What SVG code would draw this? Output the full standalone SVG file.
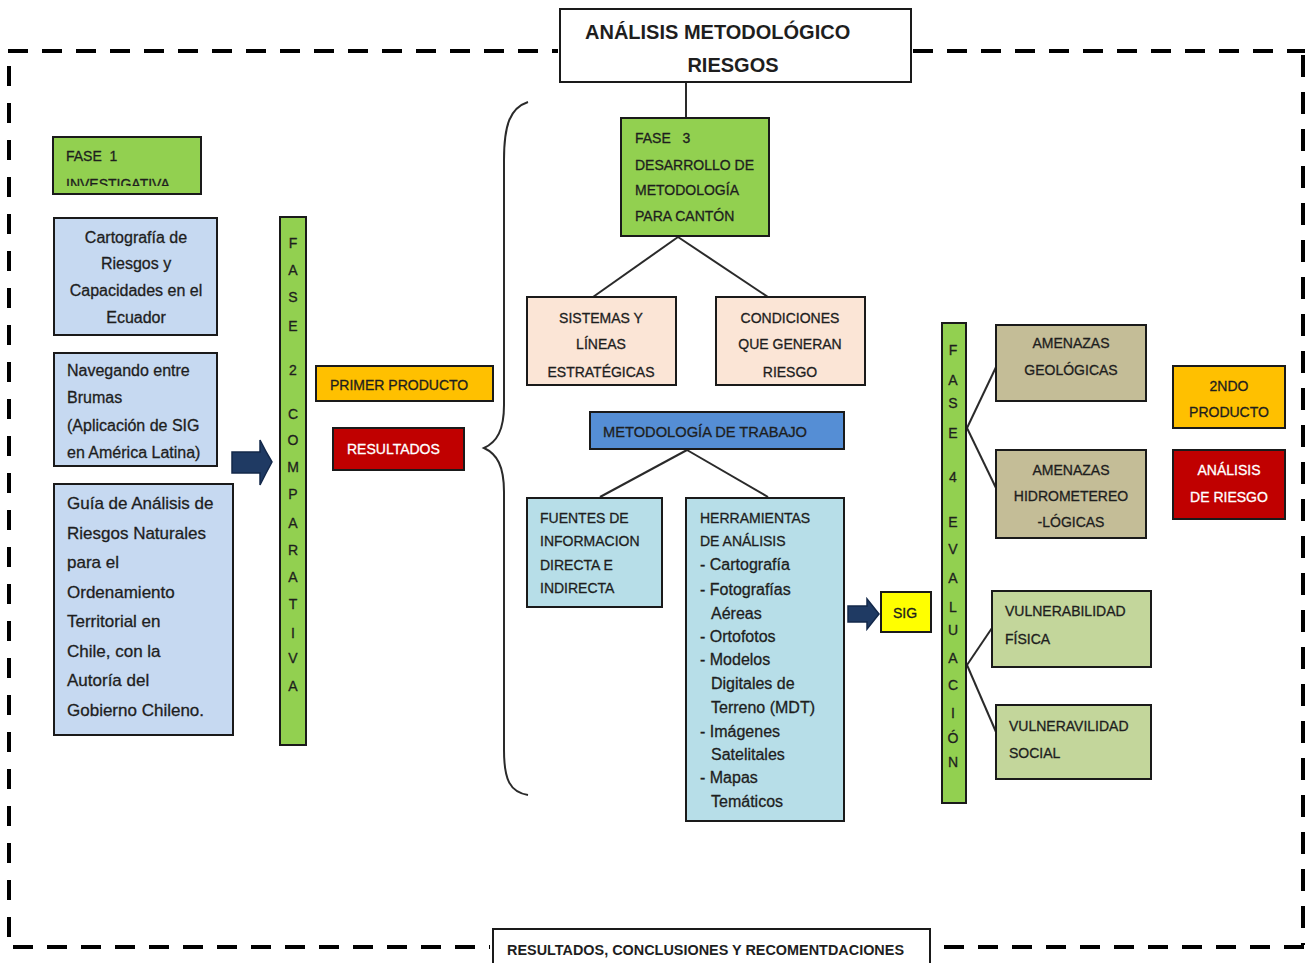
<svg xmlns="http://www.w3.org/2000/svg" width="1307" height="963" viewBox="0 0 1307 963">
  <style>
    .t { font-family: "Liberation Sans", Arial, sans-serif; font-size: 14px; fill: #1e1e1e; stroke: #1e1e1e; stroke-width: 0.3; }
    .s16 { font-size: 16px; }
    .s17 { font-size: 17px; }
    .s20 { font-size: 20px; font-weight: bold; stroke: none; }
    .b { font-weight: bold; stroke: none; }
    .c { text-anchor: middle; }
    .w { fill: #ffffff; stroke: #ffffff; }
    .box { stroke: #1a1a1a; stroke-width: 2; }
    .dash { stroke: #000; stroke-width: 4; fill: none; }
    .link { stroke: #2a2a2a; stroke-width: 2; fill: none; }
    .green { fill: #92D050; }
    .lblue { fill: #C6D9F1; }
    .peach { fill: #FBE5D6; }
    .aqua { fill: #B7DEE8; }
    .tan { fill: #C4BD97; }
    .olive { fill: #C3D69B; }
    .orange { fill: #FFC000; }
    .red { fill: #C00000; }
    .arrow { fill: #1F3A63; stroke: #13284a; stroke-width: 1.5; }
  </style>
  <defs>
    <clipPath id="fase1clip"><rect x="53" y="137" width="148" height="49"/></clipPath>
  </defs>
  <rect width="1307" height="963" fill="#ffffff"/>

  <!-- dashed frame -->
  <g id="frame">
    <line class="dash" x1="8" y1="51" x2="558" y2="51" stroke-dasharray="20 14"/>
    <line class="dash" x1="913" y1="51" x2="1305" y2="51" stroke-dasharray="20 14"/>
    <line class="dash" x1="9" y1="66" x2="9" y2="940" stroke-dasharray="20 17"/>
    <line class="dash" x1="1303" y1="55" x2="1303" y2="945" stroke-dasharray="22 15"/>
    <line class="dash" x1="13" y1="947" x2="490" y2="947" stroke-dasharray="20 14"/>
    <line class="dash" x1="944" y1="947" x2="1305" y2="947" stroke-dasharray="20 14"/>
  </g>

  <!-- connectors -->
  <g id="connectors">
    <line class="link" x1="686" y1="82" x2="686" y2="118"/>
    <line class="link" x1="678" y1="237" x2="593" y2="297"/>
    <line class="link" x1="678" y1="237" x2="768" y2="297"/>
    <line class="link" x1="687" y1="450" x2="600" y2="497"/>
    <line class="link" x1="687" y1="450" x2="768" y2="497"/>
    <line class="link" x1="967" y1="428" x2="997" y2="365"/>
    <line class="link" x1="967" y1="428" x2="996" y2="488"/>
    <line class="link" x1="967" y1="665" x2="992" y2="628"/>
    <line class="link" x1="967" y1="665" x2="996" y2="732"/>
    <path class="link" d="M528,102 C510,108 504,125 504,160 L504,405 C504,430 497,442 484,448 C497,454 504,466 504,492 L504,750 C504,780 510,792 528,795"/>
    <path class="arrow" d="M232,452 L260,452 L260,440 Q266,452 272,462 Q266,473 260,485 L260,473 L232,473 Z"/>
    <path class="arrow" d="M848,606 L867,606 L867,599 L879,614 L867,629 L867,622 L848,622 Z"/>
  </g>

  <g id="title">
    <rect class="box" x="560" y="9" width="351" height="73" fill="#ffffff"/>
    <text class="t s20" x="585" y="39">ANÁLISIS METODOLÓGICO</text>
    <text class="t s20 c" x="733" y="72">RIESGOS</text>
  </g>

  <g id="fase1">
    <rect class="box green" x="53" y="137" width="148" height="57"/>
    <text class="t" x="66" y="161">FASE&#160; 1</text>
    <text class="t" x="66" y="189" clip-path="url(#fase1clip)">INVESTIGATIVA</text>
  </g>

  <g id="cartografia">
    <rect class="box lblue" x="54" y="218" width="163" height="117"/>
    <text class="t s16 c" x="136" y="243">Cartografía de</text>
    <text class="t s16 c" x="136" y="269">Riesgos y</text>
    <text class="t s16 c" x="136" y="296">Capacidades en el</text>
    <text class="t s16 c" x="136" y="323">Ecuador</text>
  </g>

  <g id="navegando">
    <rect class="box lblue" x="54" y="353" width="163" height="113"/>
    <text class="t s16" x="67" y="376">Navegando entre</text>
    <text class="t s16" x="67" y="403">Brumas</text>
    <text class="t s16" x="67" y="431">(Aplicación de SIG</text>
    <text class="t s16" x="67" y="458">en América Latina)</text>
  </g>

  <g id="guia">
    <rect class="box lblue" x="54" y="484" width="179" height="251"/>
    <text class="t s17" x="67" y="509">Guía de Análisis de</text>
    <text class="t s17" x="67" y="539">Riesgos Naturales</text>
    <text class="t s17" x="67" y="568">para el</text>
    <text class="t s17" x="67" y="598">Ordenamiento</text>
    <text class="t s17" x="67" y="627">Territorial en</text>
    <text class="t s17" x="67" y="657">Chile, con la</text>
    <text class="t s17" x="67" y="686">Autoría del</text>
    <text class="t s17" x="67" y="716">Gobierno Chileno.</text>
  </g>

  <g id="fase2">
    <rect class="box green" x="280" y="217" width="26" height="528"/>
    <text class="t c" x="293" y="248">F</text>
    <text class="t c" x="293" y="275">A</text>
    <text class="t c" x="293" y="302">S</text>
    <text class="t c" x="293" y="331">E</text>
    <text class="t c" x="293" y="375">2</text>
    <text class="t c" x="293" y="419">C</text>
    <text class="t c" x="293" y="445">O</text>
    <text class="t c" x="293" y="472">M</text>
    <text class="t c" x="293" y="499">P</text>
    <text class="t c" x="293" y="528">A</text>
    <text class="t c" x="293" y="555">R</text>
    <text class="t c" x="293" y="582">A</text>
    <text class="t c" x="293" y="609">T</text>
    <text class="t c" x="293" y="638">I</text>
    <text class="t c" x="293" y="663">V</text>
    <text class="t c" x="293" y="691">A</text>
  </g>

  <g id="primer-producto">
    <rect class="box orange" x="316" y="366" width="177" height="35"/>
    <text class="t" x="330" y="390">PRIMER PRODUCTO</text>
  </g>

  <g id="resultados">
    <rect class="box red" x="333" y="428" width="131" height="42"/>
    <text class="t w" x="347" y="454">RESULTADOS</text>
  </g>

  <g id="fase3">
    <rect class="box green" x="621" y="118" width="148" height="118"/>
    <text class="t" x="635" y="143">FASE&#160;&#160; 3</text>
    <text class="t" x="635" y="170">DESARROLLO DE</text>
    <text class="t" x="635" y="195">METODOLOGÍA</text>
    <text class="t" x="635" y="221">PARA CANTÓN</text>
  </g>

  <g id="sistemas">
    <rect class="box peach" x="527" y="297" width="149" height="88"/>
    <text class="t c" x="601" y="323">SISTEMAS Y</text>
    <text class="t c" x="601" y="349">LÍNEAS</text>
    <text class="t c" x="601" y="377">ESTRATÉGICAS</text>
  </g>

  <g id="condiciones">
    <rect class="box peach" x="716" y="297" width="149" height="88"/>
    <text class="t c" x="790" y="323">CONDICIONES</text>
    <text class="t c" x="790" y="349">QUE GENERAN</text>
    <text class="t c" x="790" y="377">RIESGO</text>
  </g>

  <g id="metodologia">
    <rect class="box" x="590" y="412" width="254" height="37" fill="#558ED5"/>
    <text class="t" x="603" y="437" textLength="204" lengthAdjust="spacingAndGlyphs">METODOLOGÍA DE TRABAJO</text>
  </g>

  <g id="fuentes">
    <rect class="box aqua" x="527" y="498" width="135" height="109"/>
    <text class="t" x="540" y="523">FUENTES DE</text>
    <text class="t" x="540" y="546">INFORMACION</text>
    <text class="t" x="540" y="570">DIRECTA E</text>
    <text class="t" x="540" y="593">INDIRECTA</text>
  </g>

  <g id="herramientas">
    <rect class="box aqua" x="686" y="498" width="158" height="323"/>
    <text class="t" x="700" y="523">HERRAMIENTAS</text>
    <text class="t" x="700" y="546">DE ANÁLISIS</text>
    <text class="t s16" x="700" y="570">- Cartografía</text>
    <text class="t s16" x="700" y="595">- Fotografías</text>
    <text class="t s16" x="711" y="619">Aéreas</text>
    <text class="t s16" x="700" y="642">- Ortofotos</text>
    <text class="t s16" x="700" y="665">- Modelos</text>
    <text class="t s16" x="711" y="689">Digitales de</text>
    <text class="t s16" x="711" y="713">Terreno (MDT)</text>
    <text class="t s16" x="700" y="737">- Imágenes</text>
    <text class="t s16" x="711" y="760">Satelitales</text>
    <text class="t s16" x="700" y="783">- Mapas</text>
    <text class="t s16" x="711" y="807">Temáticos</text>
  </g>

  <g id="sig">
    <rect class="box" x="881" y="592" width="50" height="40" fill="#FFFF00"/>
    <text class="t c" x="905" y="618">SIG</text>
  </g>

  <g id="fase4">
    <rect class="box green" x="942" y="323" width="24" height="480"/>
    <text class="t c" x="953" y="355">F</text>
    <text class="t c" x="953" y="385">A</text>
    <text class="t c" x="953" y="408">S</text>
    <text class="t c" x="953" y="438">E</text>
    <text class="t c" x="953" y="482">4</text>
    <text class="t c" x="953" y="527">E</text>
    <text class="t c" x="953" y="554">V</text>
    <text class="t c" x="953" y="583">A</text>
    <text class="t c" x="953" y="612">L</text>
    <text class="t c" x="953" y="635">U</text>
    <text class="t c" x="953" y="663">A</text>
    <text class="t c" x="953" y="690">C</text>
    <text class="t c" x="953" y="718">I</text>
    <text class="t c" x="953" y="743">Ó</text>
    <text class="t c" x="953" y="767">N</text>
  </g>

  <g id="amenazas-geologicas">
    <rect class="box tan" x="996" y="325" width="150" height="76"/>
    <text class="t c" x="1071" y="348">AMENAZAS</text>
    <text class="t c" x="1071" y="375">GEOLÓGICAS</text>
  </g>

  <g id="amenazas-hidro">
    <rect class="box tan" x="996" y="450" width="150" height="88"/>
    <text class="t c" x="1071" y="475">AMENAZAS</text>
    <text class="t c" x="1071" y="501">HIDROMETEREO</text>
    <text class="t c" x="1071" y="527">-LÓGICAS</text>
  </g>

  <g id="vulnerabilidad-fisica">
    <rect class="box olive" x="992" y="591" width="159" height="76"/>
    <text class="t" x="1005" y="616">VULNERABILIDAD</text>
    <text class="t" x="1005" y="644">FÍSICA</text>
  </g>

  <g id="vulnerabilidad-social">
    <rect class="box olive" x="996" y="705" width="155" height="74"/>
    <text class="t" x="1009" y="731">VULNERAVILIDAD</text>
    <text class="t" x="1009" y="758">SOCIAL</text>
  </g>

  <g id="segundo-producto">
    <rect class="box orange" x="1173" y="366" width="112" height="62"/>
    <text class="t c" x="1229" y="391">2NDO</text>
    <text class="t c" x="1229" y="417">PRODUCTO</text>
  </g>

  <g id="analisis-riesgo">
    <rect class="box red" x="1173" y="450" width="112" height="69"/>
    <text class="t c w" x="1229" y="475">ANÁLISIS</text>
    <text class="t c w" x="1229" y="502">DE RIESGO</text>
  </g>

  <g id="conclusiones">
    <rect class="box" x="493" y="929" width="437" height="40" fill="#ffffff"/>
    <text class="t b" x="507" y="955" textLength="397" lengthAdjust="spacingAndGlyphs">RESULTADOS, CONCLUSIONES Y RECOMENTDACIONES</text>
  </g>
</svg>
